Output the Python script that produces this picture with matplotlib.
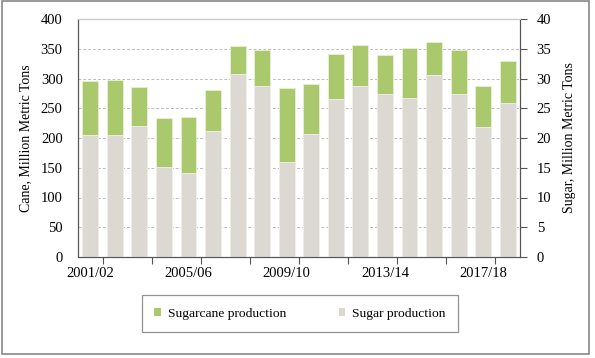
import matplotlib
matplotlib.use("Agg")
import matplotlib.pyplot as plt
from matplotlib.patches import Patch, Rectangle
import numpy as np

# datos
years = ['2001/02', '2002/03', '2003/04', '2004/05', '2005/06', '2006/07', '2007/08', '2008/09', '2009/10',
         '2010/11', '2011/12', '2012/13', '2013/14', '2014/15', '2015/16', '2016/17', '2017/18', '2018/19']
cane = [295, 297, 286, 233, 235, 280, 355, 348, 284, 291, 342, 356, 340, 351, 361, 348, 287, 329]
sugar = [20.5, 20.5, 22.1, 15.1, 14.1, 21.1, 30.8, 28.7, 15.9, 20.6, 26.5, 28.7, 27.4, 26.7, 30.6, 27.4, 21.9, 25.9]
label_every = 4

green = '#a9c96c'
grey = '#dcd9d3'

plt.rcParams['font.family'] = ['Liberation Serif', 'DejaVu Serif']

fig = plt.figure(figsize=(5.95, 3.58), dpi=100)
ax = fig.add_axes([78 / 595, 1 - 257 / 358, 442 / 595, 238 / 358])
ax2 = ax.twinx()

x = np.arange(len(years))
ax.bar(x, cane, width=0.65, color=green, edgecolor='#e8f0d8', linewidth=0.6, zorder=2)
ax2.bar(x, sugar, width=0.65, color=grey, edgecolor='#f2f0ec', linewidth=0.6, zorder=2)

ax.set_xlim(-0.5, len(years) - 0.5)
ax.set_ylim(0, 400)
ax2.set_ylim(0, 40)
ax.set_yticks(np.arange(0, 401, 50))
ax2.set_yticks(np.arange(0, 41, 5))

ax.grid(axis='y', color='#bdbdbd', linestyle=(0, (3, 2)), linewidth=0.7)
ax.set_axisbelow(True)

# marcas cada 2 categorias, etiquetas cada 4
ax.set_xticks(np.arange(0.5, len(years) - 1, 2))
ax.set_xticklabels([])
ax.set_xticks(x[::label_every], minor=True)
ax.set_xticklabels([years[i] for i in x[::label_every]], minor=True, fontsize=10.5)
ax.tick_params(axis='x', which='major', length=5, direction='out', color='#555555')
ax.tick_params(axis='x', which='minor', length=0, pad=7)
ax.tick_params(axis='y', length=0, labelsize=10.5, pad=11)
ax2.tick_params(axis='y', length=5, direction='out', labelsize=10.5, pad=7, color='#555555')

for s in ['left', 'bottom', 'right']:
    ax.spines[s].set_color('#555555')
    ax2.spines[s].set_color('#555555')
ax.spines['top'].set_color('#c8c8c8')
ax2.spines['top'].set_color('#c8c8c8')

ax.set_ylabel('Cane, Million Metric Tons', fontsize=10)
ax.yaxis.set_label_coords(-0.104, 0.5)
ax2.set_ylabel('Sugar, Million Metric Tons', fontsize=10)
ax2.yaxis.set_label_coords(1.097, 0.5)

handles = [Patch(facecolor=green, label='Sugarcane production'),
           Patch(facecolor=grey, label='Sugar production')]
leg = fig.legend(handles=handles, loc='center', ncol=2, fontsize=9.7,
                 bbox_to_anchor=(108 / 595, 25 / 358, 384 / 595, 39 / 358),
                 handlelength=0.5, handleheight=0.5, handletextpad=0.5, columnspacing=3.9,
                 frameon=True, fancybox=False, edgecolor='#777777', borderpad=0.9)
leg.get_frame().set_linewidth(0.9)

# marco exterior
fig.add_artist(Rectangle((2 / 595, 4 / 358), 587 / 595, 353 / 358, transform=fig.transFigure,
                         fill=False, edgecolor='#888888', linewidth=1.2))

fig.savefig('out.png', dpi=100)
